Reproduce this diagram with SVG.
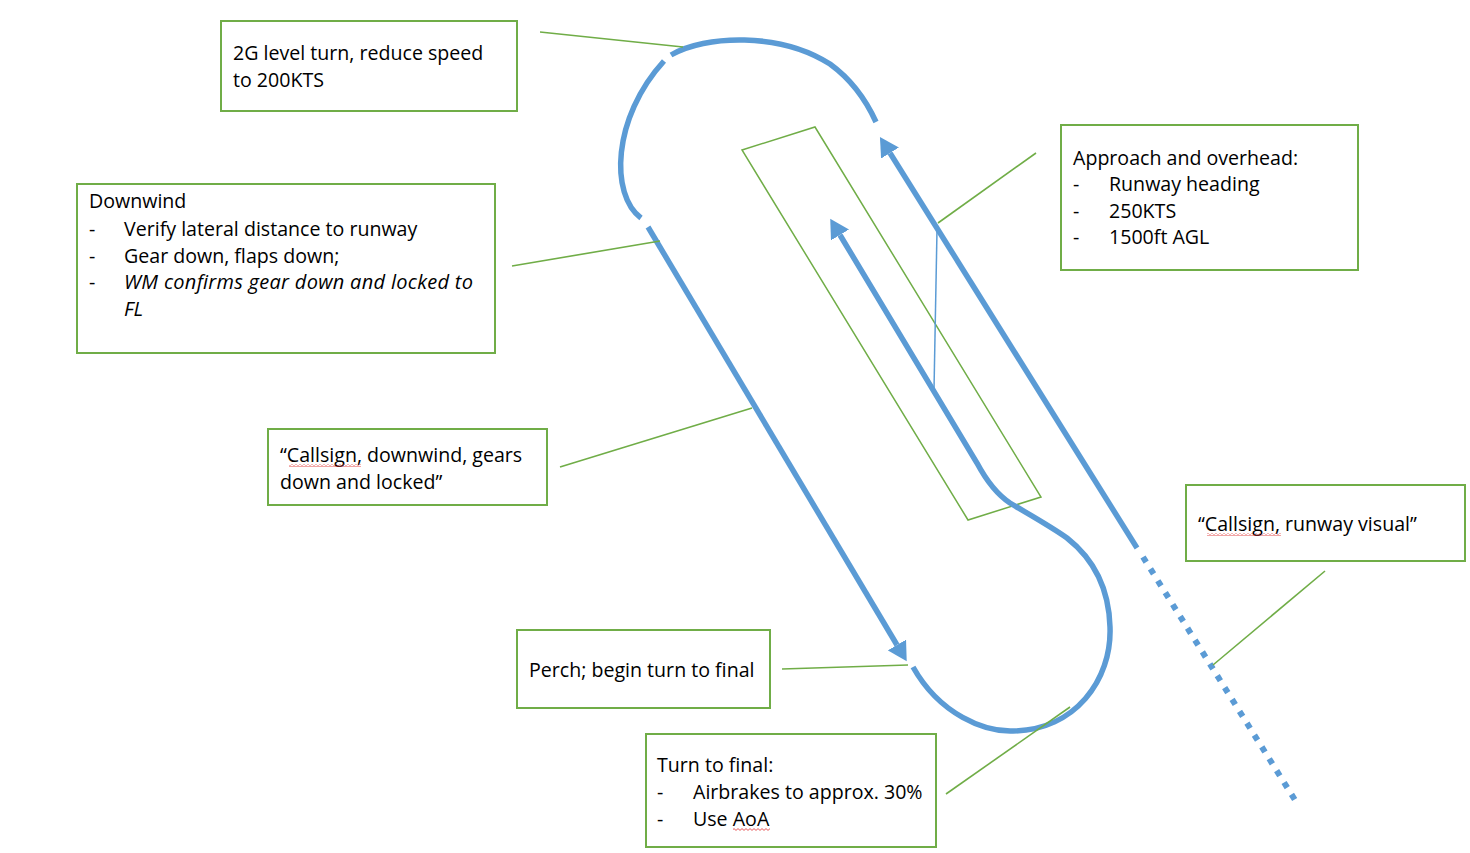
<svg xmlns="http://www.w3.org/2000/svg" width="1470" height="853" viewBox="0 0 1470 853">
<defs>
<marker id="ah" markerUnits="userSpaceOnUse" markerWidth="20" markerHeight="21" viewBox="0 0 20 21" refX="0" refY="10.5" orient="auto">
<path d="M0,0 L19,10.5 L0,21 z" fill="#5B9BD5"/>
</marker>
<pattern id="sq" width="4" height="3" patternUnits="userSpaceOnUse">
<path d="M0,2.4 L2,0.6 L4,2.4" stroke="#e03030" fill="none" stroke-width="0.8"/>
</pattern>
</defs>
<style>
.box{fill:#fff;stroke:#70AD47;stroke-width:2}
.lead{stroke:#70AD47;stroke-width:1.6;fill:none}
.path{stroke:#5B9BD5;stroke-width:5.5;fill:none}
text{font-family:"Open Sans","Noto Sans","Liberation Sans",sans-serif;font-size:19.6px;fill:#000}
.it{font-style:italic;font-size:20px}
</style>
<rect width="1470" height="853" fill="#fff"/>

<g id="runway">
<polygon points="742,150 815,127 1041,497 968,520" fill="none" stroke="#70AD47" stroke-width="1.5"/>
</g>

<g id="connectors">
<path class="path" d="M641,218 C610,195 612,118 664,61"/>
<path class="path" d="M671,55 C705,35 780,32 830,64 C852,80 866,100 876,122"/>
<path class="path" d="M648,227 L897,645" marker-end="url(#ah)"/>
<path class="path" d="M913,667 C940,715 985,732 1013,731 C1075,730 1112,680 1110,627 C1109,590 1095,560 1067,538 C1050,526 1030,515 1010,503 C995,493 985,478 977,463 L840,235" marker-end="url(#ah)"/>
<path class="path" d="M1137,548 L890,153" marker-end="url(#ah)"/>
<path d="M1143,557 L1295,800" stroke="#5B9BD5" stroke-width="6" stroke-dasharray="6 8" fill="none"/>
<path d="M937,230 L934,390" stroke="#5B9BD5" stroke-width="1.5" fill="none"/>
<path class="lead" d="M540,32 L683,47"/>
<path class="lead" d="M512,266 L660,241"/>
<path class="lead" d="M560,467 L752,408"/>
<path class="lead" d="M782,669 L908,665"/>
<path class="lead" d="M946,794 L1070,707"/>
<path class="lead" d="M938,223 L1036,153"/>
<path class="lead" d="M1213,665 L1325,571"/>
</g>

<g id="n-level-turn">
<rect class="box" x="221" y="21" width="296" height="90"/>
<text x="233" y="60">2G level turn, reduce speed</text>
<text x="233" y="87">to 200KTS</text>
</g>

<g id="n-downwind">
<rect class="box" x="77" y="184" width="418" height="169"/>
<text x="89" y="208">Downwind</text>
<text x="89" y="236">-</text><text x="124" y="236">Verify lateral distance to runway</text>
<text x="89" y="263">-</text><text x="124" y="263">Gear down, flaps down;</text>
<text x="89" y="289">-</text><text x="124" y="289" class="it" textLength="349" lengthAdjust="spacing">WM confirms gear down and locked to</text>
<text x="124" y="316" class="it">FL</text>
</g>

<g id="n-callsign-downwind">
<rect class="box" x="268" y="429" width="279" height="76"/>
<text x="280" y="462">“Callsign, downwind, gears</text>
<text x="280" y="489">down and locked”</text>
<rect x="289" y="464" width="72" height="3" fill="url(#sq)"/>
</g>

<g id="n-perch">
<rect class="box" x="517" y="630" width="253" height="78"/>
<text x="529" y="677">Perch; begin turn to final</text>
</g>

<g id="n-turn-final">
<rect class="box" x="646" y="734" width="290" height="113"/>
<text x="657" y="772">Turn to final:</text>
<text x="657" y="799">-</text><text x="693" y="799">Airbrakes to approx. 30%</text>
<text x="657" y="826">-</text><text x="693" y="826">Use AoA</text>
<rect x="733" y="828" width="37" height="3" fill="url(#sq)"/>
</g>

<g id="n-approach">
<rect class="box" x="1061" y="125" width="297" height="145"/>
<text x="1073" y="165">Approach and overhead:</text>
<text x="1073" y="191">-</text><text x="1109" y="191">Runway heading</text>
<text x="1073" y="218">-</text><text x="1109" y="218">250KTS</text>
<text x="1073" y="244">-</text><text x="1109" y="244">1500ft AGL</text>
</g>

<g id="n-runway-visual">
<rect class="box" x="1186" y="485" width="279" height="76"/>
<text x="1198" y="531">“Callsign, runway visual”</text>
<rect x="1207" y="533" width="74" height="3" fill="url(#sq)"/>
</g>
</svg>
